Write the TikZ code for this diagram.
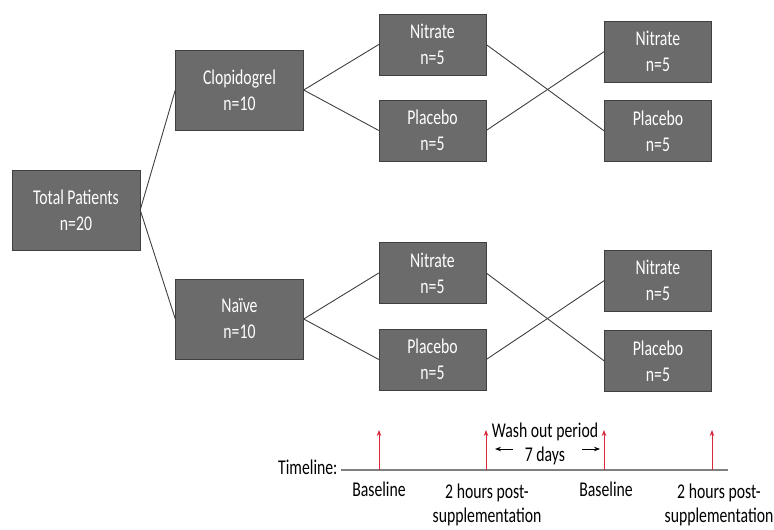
\documentclass[tikz,border=0pt]{standalone}
\usepackage{fontspec}
\usetikzlibrary{arrows.meta}
\setmainfont[FakeStretch=0.75]{Carlito}
\definecolor{tickred}{RGB}{215,40,60}

\begin{document}
\begin{tikzpicture}[x=1pt, y=-1pt, >={Stealth[length=6pt,width=4.5pt]},
    box/.style={draw=black!75, fill=black!58, text=white, align=center,
      inner sep=0pt, font=\fontsize{21}{26}\selectfont},
    bigbox/.style={box, minimum width=128pt, minimum height=80pt},
    smallbox/.style={box, minimum width=107pt, minimum height=61pt},
    link/.style={draw=black!75, line width=0.9pt},
    tltext/.style={align=center, font=\fontsize{21}{24}\selectfont}]
    \useasboundingbox (0,0) rectangle (774,530);

    % groups
    \node[bigbox] (total) at (76,210) {Total Patients\\n=20};
    \node[bigbox] (clop) at (239.5,90) {Clopidogrel\\n=10};
    \node[bigbox] (naive) at (239.5,319) {Naïve\\n=10};

    % first period
    \node[smallbox] (cnit1) at (432.5,44.5) {Nitrate\\n=5};
    \node[smallbox] (cpla1) at (432.5,130.5) {Placebo\\n=5};
    \node[smallbox] (nnit1) at (432.5,273) {Nitrate\\n=5};
    \node[smallbox] (npla1) at (432.5,359.5) {Placebo\\n=5};

    % second period
    \node[smallbox] (cnit2) at (658,51.5) {Nitrate\\n=5};
    \node[smallbox] (cpla2) at (658,131) {Placebo\\n=5};
    \node[smallbox] (nnit2) at (658,280.5) {Nitrate\\n=5};
    \node[smallbox] (npla2) at (658,361) {Placebo\\n=5};

    \draw[link] (total.east) -- (clop.west);
    \draw[link] (total.east) -- (naive.west);
    \draw[link] (clop.east) -- (cnit1.west);
    \draw[link] (clop.east) -- (cpla1.west);
    \draw[link] (naive.east) -- (nnit1.west);
    \draw[link] (naive.east) -- (npla1.west);
    \draw[link] (cnit1.east) -- (cpla2.west);
    \draw[link] (cpla1.east) -- (cnit2.west);
    \draw[link] (nnit1.east) -- (npla2.west);
    \draw[link] (npla1.east) -- (nnit2.west);

    % timeline
    \node[tltext, anchor=east] (tl) at (341,467) {Timeline:};
    \coordinate (tlend) at (728,470);
    \draw[black!50, line width=1.4pt] (tl.east |- tlend) -- (tlend);
    \foreach \x [count=\i] in {379,486,604,712} {
      \coordinate (p\i) at (\x,470);
      \coordinate (q\i) at (\x,430);
      \draw[->, tickred, line width=0.8pt] (p\i) -- (q\i);
    }

    \node[tltext] (base1) at (379,489) {Baseline};
    \node[tltext] (post1) at (487,505) {2 hours post-\\supplementation};
    \node[tltext] (base2) at (606,489) {Baseline};
    \node[tltext] (post2) at (719,505) {2 hours post-\\supplementation};

    \node[tltext] (wash) at (545,432) {Wash out period};
    \node[tltext] (days) at (545,456) {7 days};
    \coordinate (wa) at (513,449);
    \coordinate (wb) at (495,449);
    \coordinate (wc) at (582,449);
    \coordinate (wd) at (600,449);
    \draw[->, line width=0.8pt] (wa) -- (wb);
    \draw[->, line width=0.8pt] (wc) -- (wd);
  \end{tikzpicture}
\end{document}
